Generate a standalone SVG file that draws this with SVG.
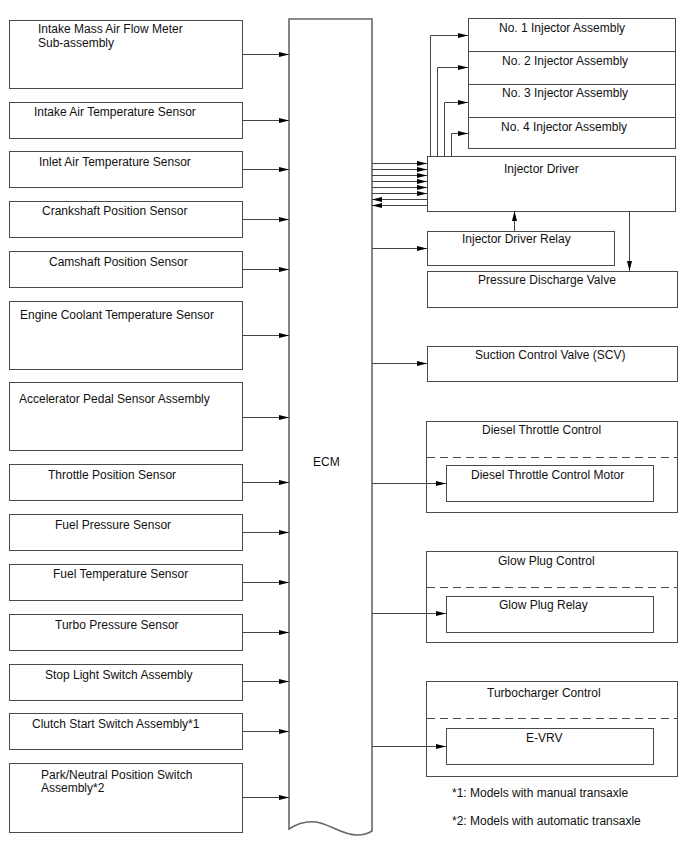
<svg xmlns="http://www.w3.org/2000/svg" width="688" height="852" viewBox="0 0 688 852">
<style>
.box{fill:#fff;stroke:#4a4a4a;stroke-width:1}
.ecm{fill:#fff;stroke:#666;stroke-width:1.6}
.dash{fill:none;stroke:#4a4a4a;stroke-width:1;stroke-dasharray:8,5}
.ln{fill:none;stroke:#444;stroke-width:1}
.arr{marker-end:url(#ah)}
text{font-family:"Liberation Sans",Arial,sans-serif;font-size:12px;fill:#111}
</style>
<defs>
<marker id="ah" markerWidth="10" markerHeight="6" refX="10" refY="3" orient="auto" markerUnits="userSpaceOnUse">
<path d="M0,0.5 L10,3 L0,5.5 Z" fill="#000"/>
</marker>
</defs>
<rect width="688" height="852" fill="#fff"/>

<g id="ecm">
<path class="ecm" d="M289,19 L372,19 L372,831 C369,833 364,835 357,835 C342,835 330,824 316,822 C306,821 298,823 289,829 Z"/>
<text x="313" y="466">ECM</text>
</g>

<g id="maf"><rect class="box" x="9.5" y="20.5" width="233" height="68"/><text x="38" y="33">Intake Mass Air Flow Meter</text><text x="38" y="47">Sub-assembly</text></g>
<g id="iat"><rect class="box" x="9.5" y="102.5" width="233" height="36"/><text x="34" y="116">Intake Air Temperature Sensor</text></g>
<g id="inlet"><rect class="box" x="9.5" y="151.5" width="233" height="36"/><text x="39" y="166">Inlet Air Temperature Sensor</text></g>
<g id="crank"><rect class="box" x="9.5" y="201.5" width="233" height="36"/><text x="42" y="215">Crankshaft Position Sensor</text></g>
<g id="cam"><rect class="box" x="9.5" y="251.5" width="233" height="36"/><text x="49" y="266">Camshaft Position Sensor</text></g>
<g id="ect"><rect class="box" x="9.5" y="301.5" width="233" height="68"/><text x="20" y="319">Engine Coolant Temperature Sensor</text></g>
<g id="accel"><rect class="box" x="9.5" y="382.5" width="233" height="68"/><text x="19" y="403">Accelerator Pedal Sensor Assembly</text></g>
<g id="tps"><rect class="box" x="9.5" y="464.5" width="233" height="36"/><text x="48" y="479">Throttle Position Sensor</text></g>
<g id="fps"><rect class="box" x="9.5" y="514.5" width="233" height="36"/><text x="55" y="529">Fuel Pressure Sensor</text></g>
<g id="fts"><rect class="box" x="9.5" y="564.5" width="233" height="36"/><text x="53" y="578">Fuel Temperature Sensor</text></g>
<g id="turbo"><rect class="box" x="9.5" y="614.5" width="233" height="36"/><text x="55" y="629">Turbo Pressure Sensor</text></g>
<g id="stop"><rect class="box" x="9.5" y="664.5" width="233" height="36"/><text x="45" y="679">Stop Light Switch Assembly</text></g>
<g id="clutch"><rect class="box" x="9.5" y="713.5" width="233" height="36"/><text x="32" y="728">Clutch Start Switch Assembly*1</text></g>
<g id="pnp"><rect class="box" x="9.5" y="763.5" width="233" height="69"/><text x="41" y="779">Park/Neutral Position Switch</text><text x="41" y="792">Assembly*2</text></g>

<g id="inj1"><rect class="box" x="468.5" y="18.5" width="207" height="33"/><text x="499" y="32">No. 1 Injector Assembly</text></g>
<g id="inj2"><rect class="box" x="468.5" y="51.5" width="207" height="33"/><text x="502" y="65">No. 2 Injector Assembly</text></g>
<g id="inj3"><rect class="box" x="468.5" y="84.5" width="207" height="33"/><text x="502" y="97">No. 3 Injector Assembly</text></g>
<g id="inj4"><rect class="box" x="468.5" y="117.5" width="207" height="31"/><text x="501" y="131">No. 4 Injector Assembly</text></g>
<g id="driver"><rect class="box" x="427.5" y="156.5" width="248" height="55"/><text x="504" y="173">Injector Driver</text></g>
<g id="relay"><rect class="box" x="427.5" y="231.5" width="187" height="34"/><text x="462" y="243">Injector Driver Relay</text></g>
<g id="pdv"><rect class="box" x="427.5" y="271.5" width="250" height="36"/><text x="478" y="284">Pressure Discharge Valve</text></g>
<g id="scv"><rect class="box" x="427.5" y="346.5" width="250" height="35"/><text x="475" y="359">Suction Control Valve (SCV)</text></g>

<g id="dtc">
<rect class="box" x="426.5" y="421.5" width="251" height="91"/>
<text x="482" y="434">Diesel Throttle Control</text>
<line class="dash" x1="427" y1="457.5" x2="677" y2="457.5"/>
<rect class="box" x="446.5" y="465.5" width="207" height="36"/>
<text x="471" y="479">Diesel Throttle Control Motor</text>
</g>
<g id="glow">
<rect class="box" x="426.5" y="551.5" width="251" height="91"/>
<text x="498" y="565">Glow Plug Control</text>
<line class="dash" x1="427" y1="587.5" x2="677" y2="587.5"/>
<rect class="box" x="446.5" y="596.5" width="207" height="36"/>
<text x="499" y="609">Glow Plug Relay</text>
</g>
<g id="turbocharger">
<rect class="box" x="426.5" y="681.5" width="251" height="95"/>
<text x="487" y="697">Turbocharger Control</text>
<line class="dash" x1="427" y1="718.5" x2="677" y2="718.5"/>
<rect class="box" x="446.5" y="728.5" width="207" height="36"/>
<text x="526" y="742">E-VRV</text>
</g>

<g id="notes">
<text x="452" y="797">*1: Models with manual transaxle</text>
<text x="452" y="825">*2: Models with automatic transaxle</text>
</g>

<g id="connectors">
<line class="ln arr" x1="242" y1="54.5" x2="289" y2="54.5"/>
<line class="ln arr" x1="242" y1="120.5" x2="289" y2="120.5"/>
<line class="ln arr" x1="242" y1="169.5" x2="289" y2="169.5"/>
<line class="ln arr" x1="242" y1="219.5" x2="289" y2="219.5"/>
<line class="ln arr" x1="242" y1="269.5" x2="289" y2="269.5"/>
<line class="ln arr" x1="242" y1="335.5" x2="289" y2="335.5"/>
<line class="ln arr" x1="242" y1="417.5" x2="289" y2="417.5"/>
<line class="ln arr" x1="242" y1="482.5" x2="289" y2="482.5"/>
<line class="ln arr" x1="242" y1="532.5" x2="289" y2="532.5"/>
<line class="ln arr" x1="242" y1="582.5" x2="289" y2="582.5"/>
<line class="ln arr" x1="242" y1="632.5" x2="289" y2="632.5"/>
<line class="ln arr" x1="242" y1="681.5" x2="289" y2="681.5"/>
<line class="ln arr" x1="242" y1="731.5" x2="289" y2="731.5"/>
<line class="ln arr" x1="242" y1="797.5" x2="289" y2="797.5"/>

<line class="ln arr" x1="372" y1="163.5" x2="427" y2="163.5"/>
<line class="ln arr" x1="372" y1="169.5" x2="427" y2="169.5"/>
<line class="ln arr" x1="372" y1="175.5" x2="427" y2="175.5"/>
<line class="ln arr" x1="372" y1="181.5" x2="427" y2="181.5"/>
<line class="ln arr" x1="372" y1="187.5" x2="427" y2="187.5"/>
<line class="ln arr" x1="372" y1="193.5" x2="427" y2="193.5"/>
<line class="ln arr" x1="427" y1="199.5" x2="372" y2="199.5"/>
<line class="ln arr" x1="427" y1="205.5" x2="372" y2="205.5"/>

<path class="ln arr" d="M430.5,156 V35.5 H468"/>
<path class="ln arr" d="M437.5,156 V67.5 H468"/>
<path class="ln arr" d="M444.5,156 V102.5 H468"/>
<path class="ln arr" d="M451.5,156 V133.5 H468"/>

<line class="ln arr" x1="372" y1="248.5" x2="427" y2="248.5"/>
<line class="ln arr" x1="514.5" y1="231" x2="514.5" y2="211"/>
<line class="ln arr" x1="629.5" y1="212" x2="629.5" y2="271"/>
<line class="ln arr" x1="372" y1="363.5" x2="427" y2="363.5"/>
<line class="ln arr" x1="372" y1="483.5" x2="446" y2="483.5"/>
<line class="ln arr" x1="372" y1="613.5" x2="446" y2="613.5"/>
<line class="ln arr" x1="372" y1="746.5" x2="446" y2="746.5"/>
</g>
</svg>
